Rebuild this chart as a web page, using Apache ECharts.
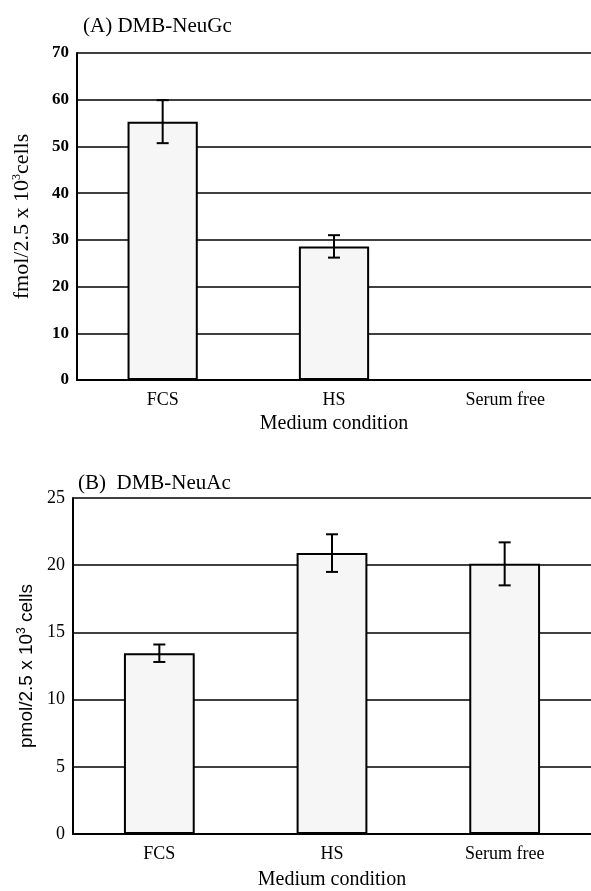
<!DOCTYPE html>
<html>
<head>
<meta charset="utf-8">
<script src="https://cdn.jsdelivr.net/npm/echarts@6/dist/echarts.min.js"></script>
<style>
  html, body { margin: 0; padding: 0; background: #fff; }
  #chart { width: 591px; height: 891px; }
</style>
</head>
<body>
<div id="chart"></div>
<script>
// data
const categories = ['FCS', 'HS', 'Serum free'];
const neuGcMean = [55.3, 28.6, 0];
const neuGcErr = [4.6, 2.4, null];
const neuAcMean = [13.45, 20.9, 20.1];
const neuAcErr = [0.65, 1.4, 1.6];

const serif = '"Liberation Serif", "DejaVu Serif", serif';
const sans = '"Liberation Sans", Arial, sans-serif';

// vertical error bar with caps
function errorBar(means, errs) {
    return function (params, api) {
        let i = params.dataIndex;
        if (errs[i] == null) return;
        let top = api.coord([i, means[i] + errs[i]]);
        let bot = api.coord([i, means[i] - errs[i]]);
        let w = 6;
        let st = { stroke: '#000', lineWidth: 2 };
        return {
            type: 'group',
            children: [
                { type: 'line', shape: { x1: top[0], y1: top[1], x2: bot[0], y2: bot[1] }, style: st },
                { type: 'line', shape: { x1: top[0] - w, y1: top[1], x2: top[0] + w, y2: top[1] }, style: st },
                { type: 'line', shape: { x1: bot[0] - w, y1: bot[1], x2: bot[0] + w, y2: bot[1] }, style: st }
            ]
        };
    };
}

function xAxis(idx, gap) {
    return {
        type: 'category',
        gridIndex: idx,
        data: categories,
        name: 'Medium condition',
        nameLocation: 'middle',
        nameGap: gap,
        nameTextStyle: { fontFamily: serif, fontSize: 20, color: '#000' },
        axisLine: { lineStyle: { color: '#000', width: 2 } },
        axisTick: { inside: true, length: 6, lineStyle: { color: '#000', width: 2 } },
        axisLabel: { fontFamily: serif, fontSize: 18, color: '#000', margin: 11 }
    };
}

function yAxis(idx, max, interval, name, nameFont, nameSize, nameGap, bold) {
    return {
        type: 'value',
        gridIndex: idx,
        min: 0,
        max: max,
        interval: interval,
        name: name,
        nameLocation: 'middle',
        nameGap: nameGap,
        nameTextStyle: {
            fontFamily: nameFont, fontSize: nameSize, color: '#000',
            rich: { sup: { fontFamily: nameFont, fontSize: 12, color: '#000', verticalAlign: 'top', padding: [0, 0, 9, 0] } }
        },
        axisLine: { show: true, lineStyle: { color: '#000', width: 2 } },
        axisTick: { show: false },
        axisLabel: { fontFamily: serif, fontSize: bold ? 17 : 18, fontWeight: bold ? 'bold' : 'normal', color: '#000', margin: 8 },
        splitLine: { show: true, lineStyle: { color: '#000', width: 1.5 } }
    };
}

const barStyle = { color: '#f6f6f6', borderColor: '#000', borderWidth: 2 };

const chart = echarts.init(document.getElementById('chart'));
chart.setOption({
    animation: false,
    backgroundColor: '#fff',
    title: [
        { text: '(A) DMB-NeuGc', left: 78, top: 11, textStyle: { fontFamily: serif, fontSize: 21, fontWeight: 'normal', color: '#000' } },
        { text: '(B)  DMB-NeuAc', left: 73, top: 468, textStyle: { fontFamily: serif, fontSize: 21, fontWeight: 'normal', color: '#000' } }
    ],
    grid: [
        { left: 77, top: 53, width: 518, height: 327 },
        { left: 73, top: 498, width: 518, height: 339 }
    ],
    xAxis: [xAxis(0, 34), xAxis(1, 36)],
    yAxis: [
        yAxis(0, 70, 10, 'fmol/2.5 x 10{sup|3}cells', serif, 22, 44, true),
        yAxis(1, 25, 5, 'pmol/2.5 x 10{sup|3} cells', sans, 19, 36, false)
    ],
    series: [
        { type: 'bar', xAxisIndex: 0, yAxisIndex: 0, data: neuGcMean, barWidth: '41%', itemStyle: barStyle },
        { type: 'custom', xAxisIndex: 0, yAxisIndex: 0, data: neuGcMean, renderItem: errorBar(neuGcMean, neuGcErr), z: 5 },
        { type: 'bar', xAxisIndex: 1, yAxisIndex: 1, data: neuAcMean, barWidth: '41%', itemStyle: barStyle },
        { type: 'custom', xAxisIndex: 1, yAxisIndex: 1, data: neuAcMean, renderItem: errorBar(neuAcMean, neuAcErr), z: 5 }
    ]
});
</script>
</body>
</html>
